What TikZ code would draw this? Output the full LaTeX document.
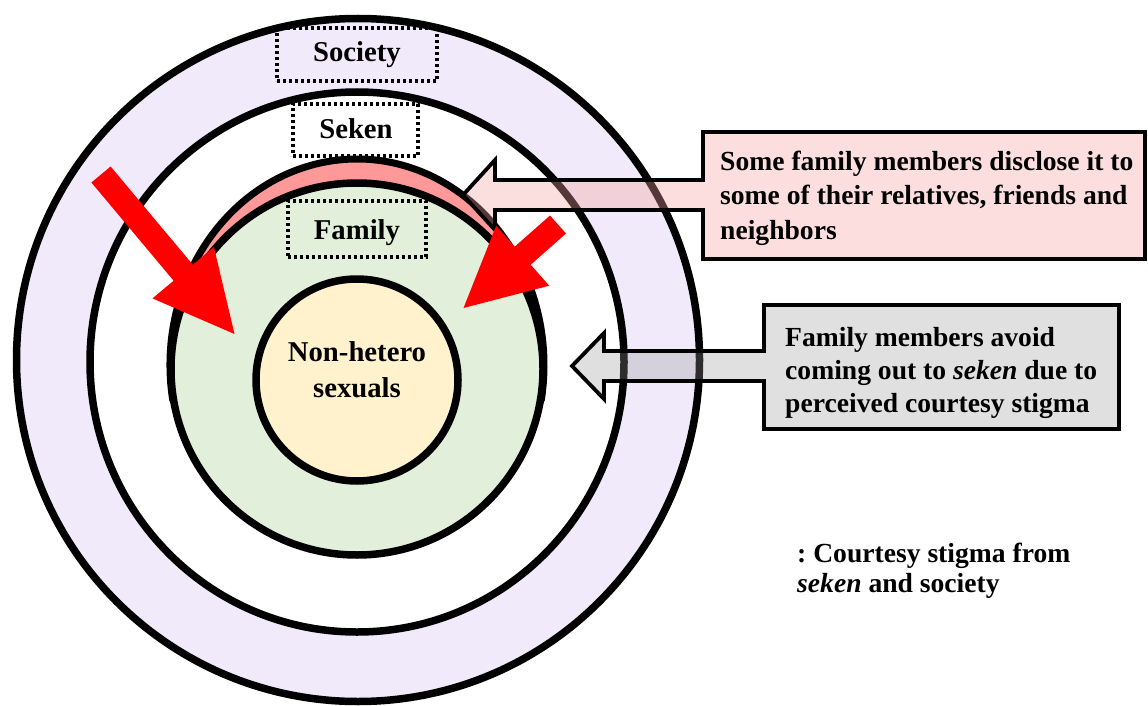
\documentclass[tikz,border=0pt]{standalone}
\usepackage{fontspec}
\setmainfont{Liberation Serif}
\usetikzlibrary{calc}
\frenchspacing
\definecolor{lav}{RGB}{240,234,250}
\definecolor{fam}{RGB}{226,239,218}
\definecolor{core}{RGB}{255,242,204}
\definecolor{cres}{RGB}{255,153,153}
\definecolor{pinkbase}{RGB}{246,161,161}
\definecolor{graybase}{RGB}{152,152,152}
\definecolor{redarrow}{RGB}{255,0,0}
\begin{document}
\begin{tikzpicture}[x=1pt,y=-1pt,
  ring/.style={draw=black,line width=7.5pt},
  dotbox/.style={draw=black,line width=3.2pt,dash pattern=on 3.2pt off 2.8pt,inner sep=0pt},
  lbl/.style={font=\fontsize{28.7}{34}\selectfont\bfseries,inner sep=0pt,anchor=base},
  ctext/.style={font=\fontsize{27.6}{34}\selectfont\bfseries,inner sep=0pt,anchor=base west},
  callout/.style={draw=black,line width=3.8pt,line join=miter},
  redarr/.style={fill=redarrow,draw=none}]
\useasboundingbox (0,0) rectangle (1148,706);
% rings
\draw[ring,fill=lav] (358,360) circle[radius=341.5];
\draw[ring,fill=white] (357,362) ellipse[x radius=267,y radius=270];
% crescent
\fill[cres] (357,365) ++(170:187 and 206) arc[start angle=170,end angle=370,x radius=187,y radius=206] -- cycle;
\draw[line width=7pt] (357,365) ++(170:187 and 206) arc[start angle=170,end angle=370,x radius=187,y radius=206];
\draw[ring,fill=fam] (357,369) circle[radius=186];
\draw[ring,fill=core] (357,380) circle[radius=101];
% label boxes
\node[dotbox,minimum width=160pt,minimum height=53pt] (socbox) at (357,54.5) {};
\node[lbl] (soc) at (357,61.5) {Society};
\node[dotbox,minimum width=125pt,minimum height=52pt] (sekbox) at (355.5,130) {};
\node[lbl] (sek) at (356,138.3) {Seken};
\node[dotbox,minimum width=138pt,minimum height=56pt] (fambox) at (357,229) {};
\node[lbl] (fam) at (357,239.3) {Family};
\node[lbl] (core1) at (357,361) {Non-hetero};
\node[lbl] (core2) at (357,397) {sexuals};
% callouts
\path[callout,fill=pinkbase,fill opacity=0.35] (1145,132) -- (703,132) -- (703,180) -- (495,180) -- (495,160) -- (463,195) -- (495,230) -- (495,210) -- (703,210) -- (703,259) -- (1145,259) -- cycle;
\path[callout,fill=graybase,fill opacity=0.3] (1119,305) -- (764,305) -- (764,351) -- (604,351) -- (604,333) -- (572,366) -- (604,399) -- (604,381) -- (764,381) -- (764,429) -- (1119,429) -- cycle;
\node[ctext] (c1a) at (720,170) {Some family members disclose it to};
\node[ctext] (c1b) at (720,204.5) {some of their relatives, friends and};
\node[ctext] (c1c) at (720,239) {neighbors};
\node[ctext] (c2a) at (785,346) {Family members avoid};
\node[ctext] (c2b) at (785,379) {coming out to \textit{seken} due to};
\node[ctext] (c2c) at (785,412) {perceived courtesy stigma};
\node[ctext] (lg1) at (797,562) {: Courtesy stigma from};
\node[ctext] (lg2) at (797,592) {\textit{seken} and society};
% red arrows
\path[redarr] (91.4,182.5) -- (110.6,166.5) -- (192.8,264.7) -- (213.9,247) -- (234.5,334) -- (152.5,298.4) -- (173.6,280.7) -- cycle;
\path[redarr] (566,233.5) -- (550,215.5) -- (514.7,246.7) -- (496.2,225.7) -- (463.5,308) -- (549.2,285.7) -- (530.7,264.7) -- cycle;
\end{tikzpicture}
\end{document}
